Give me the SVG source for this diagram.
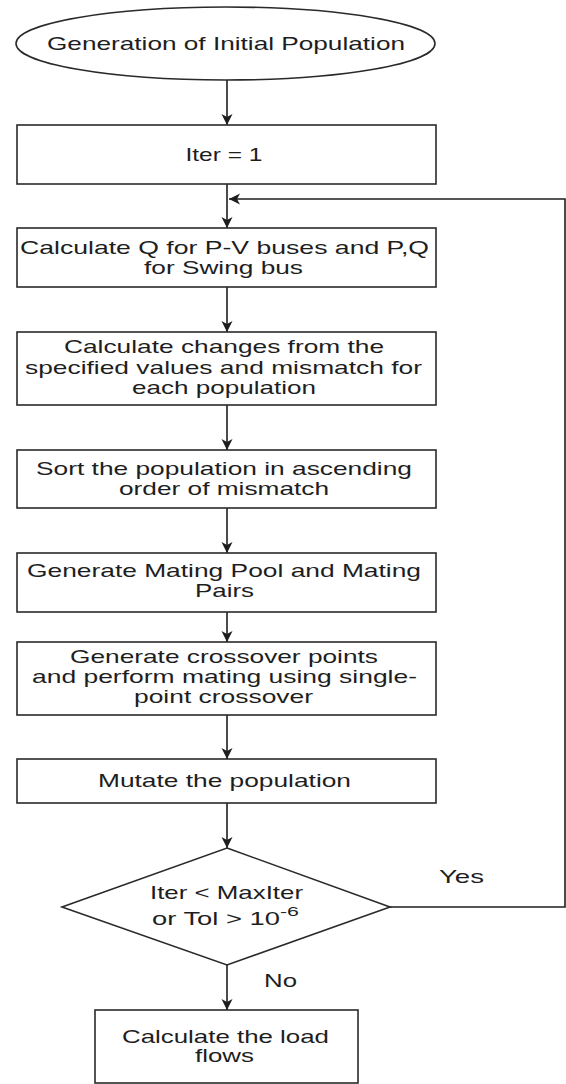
<svg xmlns="http://www.w3.org/2000/svg" width="566" height="1084" viewBox="0 0 566 1084">
<style>
.n{fill:#fff;stroke:#2a2a2a;stroke-width:1.6}
.t{font-family:"Liberation Sans",Arial,sans-serif;font-size:19px;fill:#1e1e1e;text-anchor:middle}
.l{font-family:"Liberation Sans",Arial,sans-serif;font-size:19px;fill:#1e1e1e}
.c{fill:none;stroke:#1e1e1e;stroke-width:1.6}
</style>
<defs>
<marker id="ah" markerUnits="userSpaceOnUse" markerWidth="12" markerHeight="12" refX="11" refY="6" orient="auto">
<path d="M0,0.5 L11,6 L0,11.5 L3,6 z" fill="#1e1e1e"/>
</marker>
</defs>
<rect width="566" height="1084" fill="#fff"/>
<g id="connectors">
<line class="c" x1="227" y1="80" x2="227" y2="125" marker-end="url(#ah)"/>
<line class="c" x1="227" y1="184" x2="227" y2="228" marker-end="url(#ah)"/>
<line class="c" x1="227" y1="287" x2="227" y2="332" marker-end="url(#ah)"/>
<line class="c" x1="227" y1="405" x2="227" y2="450" marker-end="url(#ah)"/>
<line class="c" x1="227" y1="508" x2="227" y2="553" marker-end="url(#ah)"/>
<line class="c" x1="227" y1="612" x2="227" y2="642" marker-end="url(#ah)"/>
<line class="c" x1="227" y1="715" x2="227" y2="759" marker-end="url(#ah)"/>
<line class="c" x1="227" y1="803" x2="227" y2="848" marker-end="url(#ah)"/>
<line class="c" x1="227" y1="965" x2="227" y2="1010" marker-end="url(#ah)"/>
<path class="c" d="M390,907 H565 V199 H229" marker-end="url(#ah)"/>
<text class="l" x="439" y="883" textLength="45" lengthAdjust="spacingAndGlyphs">Yes</text>
<text class="l" x="264" y="987" textLength="33" lengthAdjust="spacingAndGlyphs">No</text>
</g>
<g id="start">
<ellipse class="n" cx="225.5" cy="43.5" rx="209.5" ry="36.5"/>
<text class="t" x="226" y="50" textLength="358" lengthAdjust="spacingAndGlyphs">Generation of Initial Population</text>
</g>
<g id="iter">
<rect class="n" x="17" y="125" width="419" height="59"/>
<text class="t" x="224" y="161" textLength="77" lengthAdjust="spacingAndGlyphs">Iter = 1</text>
</g>
<g id="calcQ">
<rect class="n" x="17" y="228" width="419" height="59"/>
<text class="t" x="224.5" y="253.5" textLength="409" lengthAdjust="spacingAndGlyphs">Calculate Q for P-V buses and P,Q</text>
<text class="t" x="223.5" y="273.5" textLength="159" lengthAdjust="spacingAndGlyphs">for Swing bus</text>
</g>
<g id="changes">
<rect class="n" x="17" y="332" width="419" height="73"/>
<text class="t" x="224" y="353" textLength="320" lengthAdjust="spacingAndGlyphs">Calculate changes from the</text>
<text class="t" x="223.5" y="374" textLength="397" lengthAdjust="spacingAndGlyphs">specified values and mismatch for</text>
<text class="t" x="224" y="394" textLength="184" lengthAdjust="spacingAndGlyphs">each population</text>
</g>
<g id="sort">
<rect class="n" x="17" y="450" width="419" height="58"/>
<text class="t" x="224" y="475" textLength="376" lengthAdjust="spacingAndGlyphs">Sort the population in ascending</text>
<text class="t" x="224" y="495" textLength="210" lengthAdjust="spacingAndGlyphs">order of mismatch</text>
</g>
<g id="mating">
<rect class="n" x="17" y="553" width="419" height="59"/>
<text class="t" x="224" y="577" textLength="394" lengthAdjust="spacingAndGlyphs">Generate Mating Pool and Mating</text>
<text class="t" x="224.5" y="597" textLength="59" lengthAdjust="spacingAndGlyphs">Pairs</text>
</g>
<g id="crossover">
<rect class="n" x="17" y="642" width="419" height="73"/>
<text class="t" x="224" y="663" textLength="308" lengthAdjust="spacingAndGlyphs">Generate crossover points</text>
<text class="t" x="224.5" y="683" textLength="385" lengthAdjust="spacingAndGlyphs">and perform mating using single-</text>
<text class="t" x="223.5" y="703" textLength="179" lengthAdjust="spacingAndGlyphs">point crossover</text>
</g>
<g id="mutate">
<rect class="n" x="17" y="759" width="419" height="44"/>
<text class="t" x="224.5" y="787" textLength="253" lengthAdjust="spacingAndGlyphs">Mutate the population</text>
</g>
<g id="decision">
<polygon class="n" points="227,848 390,907 227,965 62,907"/>
<text class="t" x="226.5" y="899" textLength="153" lengthAdjust="spacingAndGlyphs">Iter &lt; MaxIter</text>
<text class="l" x="152" y="925" textLength="128" lengthAdjust="spacingAndGlyphs">or Tol &gt; 10</text>
<text class="l" x="280" y="916" style="font-size:13px" textLength="19" lengthAdjust="spacingAndGlyphs">-6</text>
</g>
<g id="loadflows">
<rect class="n" x="95" y="1010" width="263" height="73"/>
<text class="t" x="225.5" y="1043" textLength="207" lengthAdjust="spacingAndGlyphs">Calculate the load</text>
<text class="t" x="224.5" y="1062" textLength="59" lengthAdjust="spacingAndGlyphs">flows</text>
</g>
</svg>
